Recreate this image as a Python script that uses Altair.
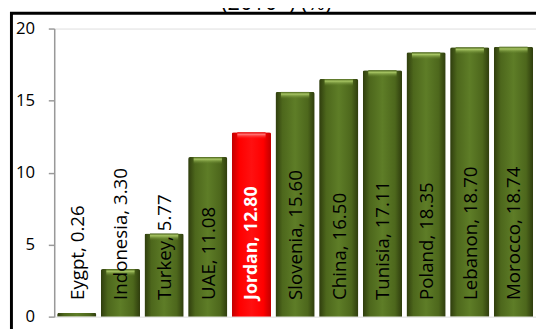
import altair as alt
import pandas as pd

countries = ["Eygpt", "Indonesia", "Turkey", "UAE", "Jordan", "Slovenia",
             "China", "Tunisia", "Poland", "Lebanon", "Morocco"]
values = [0.26, 3.30, 5.77, 11.08, 12.80, 15.60, 16.50, 17.11, 18.35, 18.70, 18.74]
highlight = "Jordan"
y_ticks = [0, 5, 10, 15, 20]
title_text = "(2010*) (%)"

df = pd.DataFrame({"country": countries, "value": values})
df["label"] = df["country"] + ", " + df["value"].map("{:.2f}".format)
df["cap"] = (df["value"] - 0.5).clip(lower=0)

FONT = "Open Sans"
W, H = 490, 293

xenc = alt.X("country:N", sort=countries, axis=None,
             scale=alt.Scale(paddingInner=0.1, paddingOuter=0.067))
yscale = alt.Scale(domain=[0, 20], nice=False)

green = alt.Gradient(gradient="linear", x1=0, x2=1, y1=0, y2=0, stops=[
    alt.GradientStop(color="#2e3c0d", offset=0),
    alt.GradientStop(color="#4d671c", offset=0.18),
    alt.GradientStop(color="#5e7d27", offset=0.5),
    alt.GradientStop(color="#4d671c", offset=0.82),
    alt.GradientStop(color="#2e3c0d", offset=1)])
red = alt.Gradient(gradient="linear", x1=0, x2=1, y1=0, y2=0, stops=[
    alt.GradientStop(color="#c00000", offset=0),
    alt.GradientStop(color="#ff0000", offset=0.2),
    alt.GradientStop(color="#ff1010", offset=0.5),
    alt.GradientStop(color="#ff0000", offset=0.8),
    alt.GradientStop(color="#c00000", offset=1)])
cap_green = alt.Gradient(gradient="linear", x1=0, x2=0, y1=0, y2=1, stops=[
    alt.GradientStop(color="#4a631b", offset=0),
    alt.GradientStop(color="#a6c463", offset=0.3),
    alt.GradientStop(color="rgba(90,120,36,0)", offset=1)])
cap_red = alt.Gradient(gradient="linear", x1=0, x2=0, y1=0, y2=1, stops=[
    alt.GradientStop(color="#e00000", offset=0),
    alt.GradientStop(color="#ff7070", offset=0.3),
    alt.GradientStop(color="rgba(255,0,0,0)", offset=1)])

base = alt.Chart(df)

yaxis = alt.Axis(values=y_ticks, grid=False, title=None, domainColor="#999999",
                 domainWidth=1.5, tickColor="#999999", tickWidth=1.5, tickSize=6,
                 labelPadding=14, labelFontSize=17, labelFont=FONT,
                 labelColor="black")

bars_g = base.mark_bar(color=green, cornerRadiusTopLeft=2, cornerRadiusTopRight=2).encode(
    x=xenc, y=alt.Y("value:Q", scale=yscale, axis=yaxis)
).transform_filter(alt.datum.country != highlight)
bars_r = base.mark_bar(color=red, cornerRadiusTopLeft=2, cornerRadiusTopRight=2).encode(
    x=xenc, y=alt.Y("value:Q", scale=yscale)
).transform_filter(alt.datum.country == highlight)

caps_g = base.mark_bar(color=cap_green, width=alt.RelativeBandSize(0.72)).encode(
    x=xenc, y=alt.Y("value:Q", scale=yscale), y2="cap:Q"
).transform_filter((alt.datum.country != highlight) & (alt.datum.value > 1))
caps_r = base.mark_bar(color=cap_red, width=alt.RelativeBandSize(0.72)).encode(
    x=xenc, y=alt.Y("value:Q", scale=yscale), y2="cap:Q"
).transform_filter(alt.datum.country == highlight)

labels = base.mark_text(angle=270, align="left", baseline="middle", dx=17, dy=1,
                        font=FONT, fontSize=19, color="black").encode(
    x=xenc, y=alt.Y(datum=0, scale=yscale), text="label:N"
).transform_filter(alt.datum.country != highlight)
labels_r = base.mark_text(angle=270, align="left", baseline="middle", dx=17, dy=1,
                          font=FONT, fontSize=18, fontWeight="bold", color="white").encode(
    x=xenc, y=alt.Y(datum=0, scale=yscale), text="label:N"
).transform_filter(alt.datum.country == highlight)

one = alt.Chart(pd.DataFrame({"t": [title_text]}))
frame = one.mark_rect(filled=False, stroke="black", strokeWidth=3).encode(
    x=alt.value(-43.5), x2=alt.value(W + 60), y=alt.value(-15.5), y2=alt.value(H + 60))
title = one.mark_text(font=FONT, fontSize=22, baseline="alphabetic", align="center",
                      color="black").encode(
    x=alt.value(226), y=alt.value(-19), text="t:N")

chart = alt.layer(frame, title, bars_g, bars_r, caps_g, caps_r, labels, labels_r).properties(
    width=W, height=H,
    autosize=alt.AutoSizeParams(type="none"),
    padding={"left": 47, "top": 18, "right": 0, "bottom": 30},
).configure_view(stroke=None).configure(background="white")

chart.save("out.html", embed_options={"renderer": "svg", "actions": False})
